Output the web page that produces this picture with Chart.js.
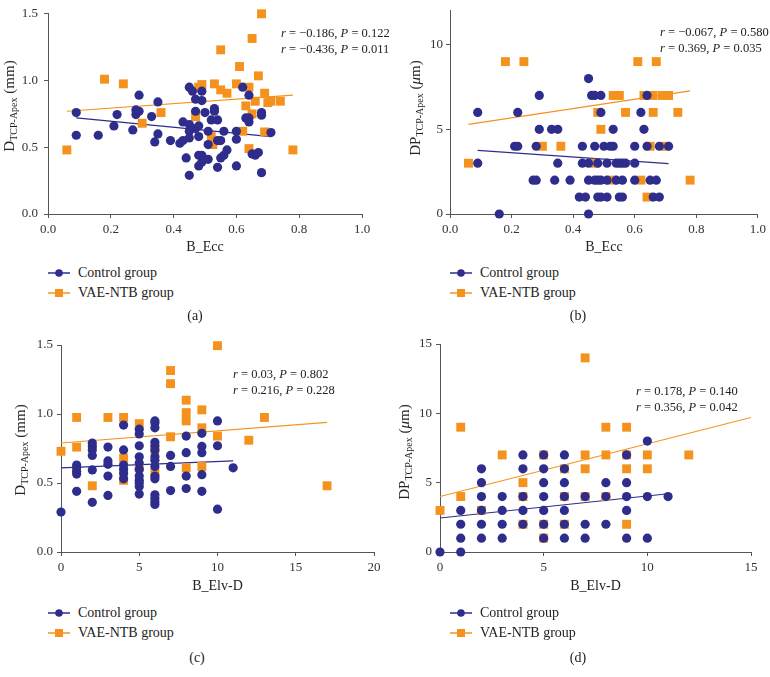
<!DOCTYPE html>
<html>
<head>
<meta charset="utf-8">
<script src="https://cdn.jsdelivr.net/npm/chart.js@4.4.0/dist/chart.umd.min.js"></script>
<style>
    body { margin: 0; background: #fff; font-family: "Liberation Serif", serif; color: #222; }
    #fig { position: relative; width: 770px; height: 677px; overflow: hidden; }
    canvas { position: absolute; }
    .ytitle { position: absolute; transform: translate(-50%, -50%) rotate(-90deg); white-space: nowrap; font-size: 15px; }
    .ytitle sub { font-size: 10px; vertical-align: -3px; }
    .note { position: absolute; font-size: 12.5px; line-height: 16px; white-space: nowrap; }
    .legend { position: absolute; font-size: 14px; }
    .legend div { display: flex; align-items: center; height: 20px; }
    .legend svg { margin-right: 8px; }
    .caption { position: absolute; font-size: 14px; transform: translateX(-50%); }
</style>
</head>
<body>
<div id="fig">
    <canvas id="chart-a" width="380" height="262" style="left:0;top:0"></canvas>
    <canvas id="chart-b" width="385" height="262" style="left:385px;top:0"></canvas>
    <canvas id="chart-c" width="390" height="268" style="left:0;top:330px"></canvas>
    <canvas id="chart-d" width="385" height="268" style="left:385px;top:330px"></canvas>

    <div class="ytitle" style="left:10px;top:106px">D<sub>TCP-Apex</sub> (mm)</div>
    <div class="ytitle" style="left:416px;top:108px">DP<sub>TCP-Apex</sub> (<i>μ</i>m)</div>
    <div class="ytitle" style="left:21px;top:450px">D<sub>TCP-Apex</sub> (mm)</div>
    <div class="ytitle" style="left:405px;top:452px">DP<sub>TCP-Apex</sub> (<i>μ</i>m)</div>

    <div class="note" style="left:281px;top:25px"><i>r</i> = −0.186, <i>P</i> = 0.122<br><i>r</i> = −0.436, <i>P</i> = 0.011</div>
    <div class="note" style="left:660px;top:24px"><i>r</i> = −0.067, <i>P</i> = 0.580<br><i>r</i> = 0.369, <i>P</i> = 0.035</div>
    <div class="note" style="left:233px;top:366px"><i>r</i> = 0.03, <i>P</i> = 0.802<br><i>r</i> = 0.216, <i>P</i> = 0.228</div>
    <div class="note" style="left:636px;top:383px"><i>r</i> = 0.178, <i>P</i> = 0.140<br><i>r</i> = 0.356, <i>P</i> = 0.042</div>

    <div class="legend" id="legend-a" style="left:48px;top:263px"></div>
    <div class="legend" id="legend-b" style="left:450px;top:263px"></div>
    <div class="legend" id="legend-c" style="left:48px;top:603px"></div>
    <div class="legend" id="legend-d" style="left:450px;top:603px"></div>

    <div class="caption" style="left:195px;top:308px">(a)</div>
    <div class="caption" style="left:578px;top:308px">(b)</div>
    <div class="caption" style="left:197px;top:650px">(c)</div>
    <div class="caption" style="left:578px;top:650px">(d)</div>
</div>

<script>
// Dados: pares [x, y]

// (a) B_Ecc x D_TCP-Apex
const aControl = [[0.09,0.76],[0.09,0.59],[0.16,0.59],[0.21,0.66],[0.22,0.745],[0.27,0.63],[0.28,0.78],[0.28,0.745],[0.29,0.89],[0.29,0.77],[0.33,0.73],[0.34,0.54],[0.35,0.84],[0.35,0.60],[0.39,0.55],[0.42,0.53],[0.43,0.69],[0.43,0.55],[0.44,0.42],[0.45,0.95],[0.45,0.67],[0.45,0.62],[0.45,0.57],[0.45,0.29],[0.46,0.92],[0.47,0.86],[0.47,0.77],[0.47,0.64],[0.48,0.66],[0.48,0.58],[0.48,0.44],[0.48,0.36],[0.49,0.92],[0.49,0.85],[0.49,0.44],[0.49,0.39],[0.50,0.76],[0.51,0.62],[0.51,0.52],[0.51,0.41],[0.52,0.705],[0.53,0.79],[0.53,0.77],[0.54,0.705],[0.54,0.55],[0.54,0.35],[0.55,0.55],[0.55,0.42],[0.56,0.62],[0.56,0.44],[0.57,0.48],[0.60,0.62],[0.60,0.56],[0.60,0.36],[0.62,0.95],[0.63,0.72],[0.64,0.72],[0.64,0.89],[0.64,0.69],[0.65,0.45],[0.66,0.44],[0.67,0.46],[0.68,0.76],[0.68,0.74],[0.68,0.31],[0.71,0.61]];
const aVae = [[0.06,0.48],[0.18,1.01],[0.24,0.975],[0.30,0.68],[0.36,0.76],[0.47,0.73],[0.48,0.95],[0.49,0.97],[0.52,0.58],[0.525,0.52],[0.53,0.975],[0.55,1.23],[0.55,0.93],[0.57,0.905],[0.60,0.975],[0.61,1.105],[0.62,0.62],[0.63,0.81],[0.64,0.95],[0.64,0.49],[0.65,1.315],[0.65,0.75],[0.66,0.845],[0.67,1.035],[0.68,1.50],[0.69,0.905],[0.69,0.615],[0.70,0.835],[0.71,0.845],[0.74,0.845],[0.78,0.48]];
const aControlFit = [[0.09,0.72],[0.71,0.58]];
const aVaeFit = [[0.06,0.77],[0.78,0.89]];

// (b) B_Ecc x DP_TCP-Apex
const bControl = [[0.09,6],[0.09,3],[0.16,0],[0.21,4],[0.22,4],[0.22,6],[0.27,2],[0.28,2],[0.28,4],[0.29,7],[0.29,5],[0.33,5],[0.35,5],[0.34,2],[0.35,3],[0.39,2],[0.42,1],[0.43,4],[0.43,3],[0.44,1],[0.45,8],[0.45,3],[0.45,2],[0.45,0],[0.46,7],[0.47,7],[0.47,4],[0.47,2],[0.48,3],[0.48,2],[0.48,1],[0.49,7],[0.49,6],[0.49,2],[0.49,1],[0.50,4],[0.51,3],[0.51,2],[0.51,1],[0.52,4],[0.53,4],[0.53,5],[0.54,3],[0.54,2],[0.55,3],[0.55,1],[0.56,2],[0.56,1],[0.56,3],[0.57,3],[0.60,4],[0.60,3],[0.60,2],[0.62,6],[0.63,5],[0.64,4],[0.64,7],[0.65,2],[0.66,1],[0.67,2],[0.68,1],[0.68,4],[0.71,4]];
const bVae = [[0.06,3],[0.18,9],[0.24,9],[0.30,4],[0.36,4],[0.47,3],[0.48,6],[0.49,5],[0.53,7],[0.54,7],[0.55,7],[0.525,2],[0.57,6],[0.61,9],[0.62,2],[0.63,7],[0.64,1],[0.65,4],[0.66,6],[0.66,7],[0.67,9],[0.69,7],[0.70,4],[0.71,7],[0.74,6],[0.78,2]];
const bControlFit = [[0.09,3.76],[0.71,2.98]];
const bVaeFit = [[0.06,5.29],[0.78,7.27]];

// (c) B_Elv-D x D_TCP-Apex
const cControl = [[0,0.29],[1,0.63],[1,0.61],[1,0.585],[1,0.565],[1,0.44],[2,0.79],[2,0.765],[2,0.74],[2,0.70],[2,0.595],[2,0.36],[3,0.76],[3,0.66],[3,0.635],[3,0.55],[3,0.41],[4,0.92],[4,0.74],[4,0.63],[4,0.60],[4,0.57],[4,0.53],[5,0.89],[5,0.855],[5,0.77],[5,0.69],[5,0.645],[5,0.60],[5,0.55],[5,0.52],[5,0.50],[5,0.475],[5,0.42],[6,0.95],[6,0.935],[6,0.90],[6,0.795],[6,0.77],[6,0.74],[6,0.69],[6,0.665],[6,0.62],[6,0.55],[6,0.53],[6,0.415],[6,0.39],[6,0.365],[6,0.345],[7,0.70],[7,0.62],[7,0.445],[8,0.84],[8,0.72],[8,0.55],[8,0.46],[9,0.86],[9,0.765],[9,0.72],[9,0.56],[9,0.44],[10,0.95],[10,0.77],[10,0.31],[11,0.61]];
const cVae = [[0,0.73],[1,0.975],[1,0.76],[2,0.48],[3,0.975],[4,0.975],[4,0.68],[4,0.52],[5,0.93],[5,0.61],[6,0.74],[6,0.575],[7,1.315],[7,1.22],[7,0.835],[8,1.10],[8,1.01],[8,0.95],[8,0.61],[9,1.03],[9,0.90],[9,0.62],[10,1.495],[10,0.84],[12,0.81],[13,0.975],[17,0.48]];
const cControlFit = [[0,0.61],[11,0.66]];
const cVaeFit = [[0,0.79],[17,0.94]];

// (d) B_Elv-D x DP_TCP-Apex
const dControl = [[0,0],[1,0],[1,1],[1,2],[1,3],[2,1],[2,2],[2,3],[2,4],[2,5],[2,6],[3,1],[3,2],[3,3],[3,4],[4,2],[4,3],[4,4],[4,6],[4,7],[5,1],[5,2],[5,3],[5,4],[5,5],[5,6],[5,7],[6,1],[6,2],[6,3],[6,4],[6,5],[6,6],[6,7],[7,1],[7,2],[7,4],[8,2],[8,4],[8,5],[9,1],[9,3],[9,4],[9,5],[9,7],[10,1],[10,4],[10,8],[11,4]];
const dVae = [[0,3],[1,9],[1,4],[2,3],[3,7],[4,5],[4,4],[4,2],[5,7],[5,2],[5,1],[6,6],[6,4],[6,2],[7,14],[7,7],[7,6],[7,4],[8,9],[8,7],[8,4],[9,9],[9,7],[9,6],[9,2],[10,7],[10,6],[12,7]];
const dControlFit = [[0,2.45],[11,4.2]];
const dVaeFit = [[0,4.0],[15,9.7]];

const seriesNames = ['Control group', 'VAE-NTB group'];

const BLUE = '#2e2d8c';
const ORANGE = '#f5921e';
const AXIS = '#555';
const FONT = '"Liberation Serif", serif';

Chart.defaults.font.family = FONT;
Chart.defaults.color = '#333';

const toXY = pairs => pairs.map(([x, y]) => ({ x, y }));

// Monta um painel de dispersão com as duas retas de ajuste
function scatterPanel(id, cfg) {
    const axisCommon = {
        type: 'linear',
        grid: { drawOnChartArea: false, drawTicks: true, tickLength: 4, color: AXIS },
        border: { display: true, color: AXIS, width: 1 }
    };

    return new Chart(document.getElementById(id), {
        type: 'scatter',
        data: {
            datasets: [
                { label: seriesNames[0], data: toXY(cfg.control), pointStyle: 'circle', pointRadius: 4.6,
                  backgroundColor: BLUE, borderWidth: 0, clip: false },
                { label: seriesNames[1], data: toXY(cfg.vae), pointStyle: 'rect', pointRadius: 6.3,
                  backgroundColor: ORANGE, borderWidth: 0, clip: false },
                { type: 'line', data: toXY(cfg.controlFit), borderColor: BLUE, borderWidth: 1.2, pointRadius: 0, fill: false },
                { type: 'line', data: toXY(cfg.vaeFit), borderColor: ORANGE, borderWidth: 1.2, pointRadius: 0, fill: false }
            ]
        },
        options: {
            responsive: false,
            animation: false,
            layout: { padding: cfg.padding },
            plugins: { legend: { display: false }, tooltip: { enabled: false } },
            scales: {
                x: {
                    ...axisCommon,
                    min: cfg.x.min, max: cfg.x.max,
                    ticks: { stepSize: cfg.x.step, padding: 4, font: { size: 13 }, includeBounds: false,
                             callback: v => v.toFixed(cfg.x.dec) },
                    title: { display: true, text: cfg.x.title, font: { size: 14 }, color: '#222',
                             padding: { top: 0, bottom: cfg.x.titlePad } },
                    afterFit: s => { s.height = cfg.x.height; }
                },
                y: {
                    ...axisCommon,
                    min: cfg.y.min, max: cfg.y.max,
                    ticks: { stepSize: cfg.y.step, padding: cfg.y.pad, font: { size: 13 }, includeBounds: false,
                             callback: v => v.toFixed(cfg.y.dec) },
                    afterFit: s => { s.width = cfg.y.width; }
                }
            }
        }
    });
}

// Legenda em HTML (linha + marcador)
function buildLegend(id) {
    const el = document.getElementById(id);
    const marks = [
        `<line x1="0" y1="6" x2="22" y2="6" stroke="${BLUE}" stroke-width="1.5"/><circle cx="11" cy="6" r="3.8" fill="${BLUE}"/>`,
        `<line x1="0" y1="6" x2="22" y2="6" stroke="${ORANGE}" stroke-width="1.5"/><rect x="7" y="2" width="8" height="8" fill="${ORANGE}"/>`
    ];
    el.innerHTML = seriesNames.map((name, i) =>
        `<div><svg width="22" height="12">${marks[i]}</svg>${name}</div>`).join('');
}

scatterPanel('chart-a', {
    control: aControl, vae: aVae, controlFit: aControlFit, vaeFit: aVaeFit,
    padding: { top: 7, right: 18, left: 0, bottom: 0 },
    x: { min: 0, max: 1, step: 0.2, dec: 1, title: 'B_Ecc', height: 48, titlePad: 6 },
    y: { min: 0, max: 1.5, step: 0.5, dec: 1, width: 48, pad: 6 }
});

scatterPanel('chart-b', {
    control: bControl, vae: bVae, controlFit: bControlFit, vaeFit: bVaeFit,
    padding: { top: 8, right: 9, left: 0, bottom: 0 },
    x: { min: 0, max: 1, step: 0.2, dec: 1, title: 'B_Ecc', height: 48, titlePad: 6 },
    y: { min: 0, max: 12, step: 5, dec: 0, width: 65, pad: 3 }
});

scatterPanel('chart-c', {
    control: cControl, vae: cVae, controlFit: cControlFit, vaeFit: cVaeFit,
    padding: { top: 15, right: 16, left: 0, bottom: 0 },
    x: { min: 0, max: 20, step: 5, dec: 0, title: 'B_Elv-D', height: 46, titlePad: 3 },
    y: { min: 0, max: 1.5, step: 0.5, dec: 1, width: 61, pad: 4 }
});

scatterPanel('chart-d', {
    control: dControl, vae: dVae, controlFit: dControlFit, vaeFit: dVaeFit,
    padding: { top: 14, right: 19, left: 0, bottom: 0 },
    x: { min: 0, max: 15, step: 5, dec: 0, title: 'B_Elv-D', height: 46, titlePad: 3 },
    y: { min: 0, max: 15, step: 5, dec: 0, width: 55, pad: 4 }
});

['legend-a', 'legend-b', 'legend-c', 'legend-d'].forEach(buildLegend);
</script>
</body>
</html>
